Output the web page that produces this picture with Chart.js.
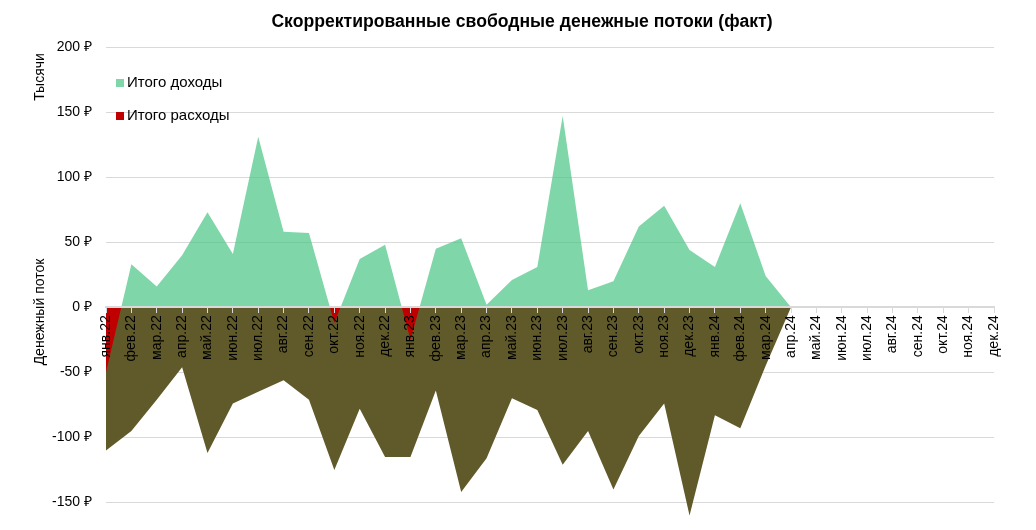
<!DOCTYPE html>
<html>
<head>
<meta charset="utf-8">
<script src="https://cdn.jsdelivr.net/npm/chart.js@4"></script>
<style>
  body { margin: 0; background: #fff; }
  #wrap { width: 1036px; height: 530px; }
</style>
</head>
<body>
<div id="wrap"><canvas id="cashChart" width="1036" height="530"></canvas></div>
<script>
const months = [
  'янв.22', 'фев.22', 'мар.22', 'апр.22', 'май.22', 'июн.22', 'июл.22', 'авг.22', 'сен.22', 'окт.22', 'ноя.22', 'дек.22',
  'янв.23', 'фев.23', 'мар.23', 'апр.23', 'май.23', 'июн.23', 'июл.23', 'авг.23', 'сен.23', 'окт.23', 'ноя.23', 'дек.23',
  'янв.24', 'фев.24', 'мар.24', 'апр.24', 'май.24', 'июн.24', 'июл.24', 'авг.24', 'сен.24', 'окт.24', 'ноя.24', 'дек.24'
];

// net cash flow, thousands (green above zero, red below)
const netFlow = [
  -50, 33, 16, 40, 73, 41, 131, 58, 57, -12, 37, 48,
  -25, 45, 53, 2, 21, 31, 147, 13, 20, 62, 78, 44,
  31, 80, 24, 0, null, null, null, null, null, null, null, null
];

// outflows, thousands
const outFlow = [
  -110, -95, -71, -46, -112, -74, -65, -56, -71, -125, -78, -115,
  -115, -64, -142, -116, -70, -79, -121, -95, -140, -99, -74, -160,
  -83, -93, -45, 0, null, null, null, null, null, null, null, null
];

const yTicks = [-150, -100, -50, 0, 50, 100, 150, 200];
const legendItems = ['Итого доходы', 'Итого расходы'];
const chartTitle = 'Скорректированные свободные денежные потоки (факт)';

const GREEN = 'rgba(72, 196, 131, 0.7)';
const GREEN_SOLID = '#7fd6a8';
const RED = '#c00000';
const OLIVE = '#605a2b';
const GRID = '#d9d9d9';
const FONT = '"Liberation Sans", Arial, sans-serif';

// title + axis titles, Excel style
const axisTexts = {
  id: 'axisTexts',
  afterDraw(chart) {
    const ctx = chart.ctx;
    ctx.save();
    ctx.fillStyle = '#000';
    ctx.textAlign = 'center';
    ctx.textBaseline = 'middle';
    ctx.font = 'bold 17.6px ' + FONT;
    ctx.fillText(chartTitle, 522, 22);
    ctx.font = '14px ' + FONT;
    [['Тысячи', 77], ['Денежный поток', 312]].forEach(([txt, y]) => {
      ctx.save();
      ctx.translate(40, y);
      ctx.rotate(-Math.PI / 2);
      ctx.fillText(txt, 0, 0);
      ctx.restore();
    });
    ctx.restore();
  }
};

// legend sits inside the plot, top-left
const innerLegend = {
  id: 'innerLegend',
  afterDatasetsDraw(chart) {
    const ctx = chart.ctx;
    const colors = [GREEN_SOLID, RED];
    ctx.save();
    ctx.font = '15px ' + FONT;
    ctx.textBaseline = 'middle';
    ctx.textAlign = 'left';
    legendItems.forEach((txt, i) => {
      const cy = 83 + i * 33;
      ctx.fillStyle = colors[i];
      ctx.fillRect(116, cy - 4, 8, 8);
      ctx.fillStyle = '#000';
      ctx.fillText(txt, 127, cy);
    });
    ctx.restore();
  }
};

const ctx = document.getElementById('cashChart');
new Chart(ctx, {
  type: 'line',
  data: {
    labels: months,
    datasets: [
      {
        label: legendItems[0],
        data: netFlow,
        borderWidth: 0,
        pointRadius: 0,
        tension: 0,
        fill: { target: 'origin', above: GREEN, below: RED }
      },
      {
        label: 'Отток',
        data: outFlow,
        borderWidth: 0,
        pointRadius: 0,
        tension: 0,
        backgroundColor: OLIVE,
        fill: 'origin'
      }
    ]
  },
  options: {
    responsive: false,
    animation: false,
    layout: { padding: { left: 0, right: 42, top: 47, bottom: 8 } },
    plugins: {
      title: { display: false },
      legend: { display: false },
      tooltip: { enabled: false }
    },
    scales: {
      x: {
        position: { y: 0 },
        offset: false,
        grid: { drawOnChartArea: false, drawTicks: true, tickLength: 5, color: GRID, z: 1 },
        border: { display: true, color: GRID, width: 2, z: 1 },
        ticks: {
          color: '#000',
          font: { family: FONT, size: 14 },
          padding: 3,
          autoSkip: false,
          minRotation: 90,
          maxRotation: 90,
          z: 1
        }
      },
      y: {
        min: -165,
        max: 200,
        afterFit: (scale) => {
          scale.width = 106;
          scale.paddingTop = 0;
          scale.paddingBottom = 0;
        },
        afterBuildTicks: (scale) => { scale.ticks = yTicks.map(v => ({ value: v })); },
        grid: { color: GRID, drawTicks: false },
        border: { display: false },
        ticks: {
          color: '#000',
          padding: 14,
          font: { family: FONT, size: 14 },
          callback: (v) => v + ' ₽'
        }
      }
    }
  },
  plugins: [axisTexts, innerLegend]
});
</script>
</body>
</html>
